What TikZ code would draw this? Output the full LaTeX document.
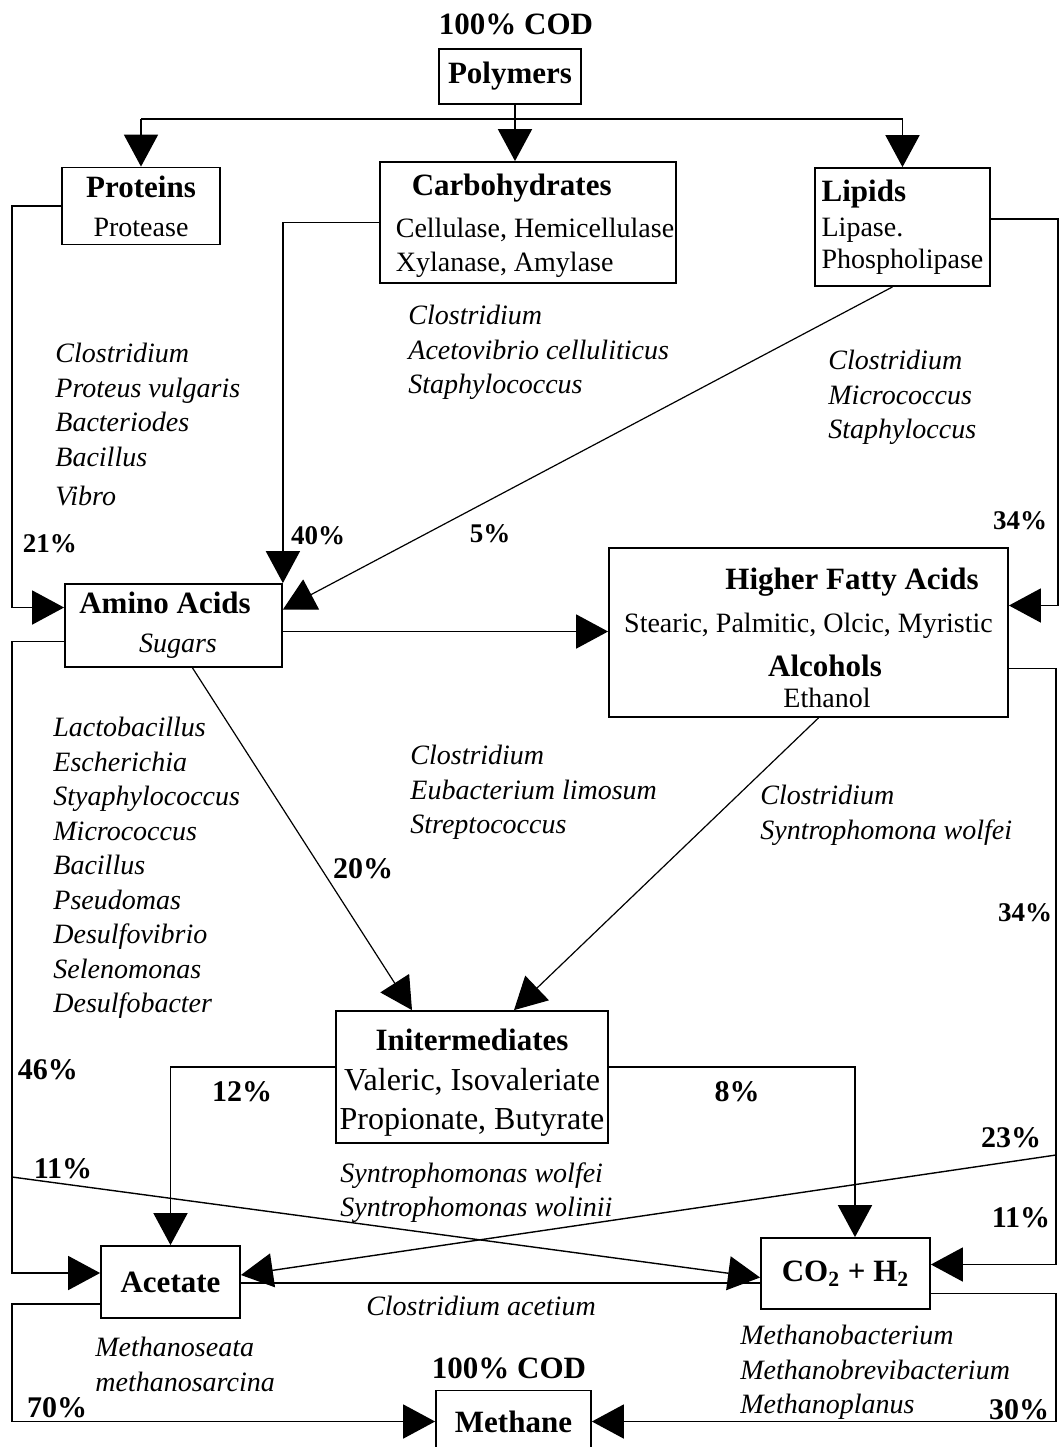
\documentclass[tikz,border=0pt]{standalone}
\usepackage{fontspec}
\setmainfont{Liberation Serif}
\usetikzlibrary{arrows.meta,positioning}

\newcommand{\titcaja}[1]{{\fontsize{15.5}{18}\selectfont\bfseries #1}}

\begin{document}
\begin{tikzpicture}[x=0.5pt, y=-0.5pt,
    caja/.style={draw, line width=0.9pt, inner sep=0pt, align=center, font=\fontsize{14}{17}\selectfont},
    bact/.style={anchor=north west, inner sep=0pt, align=left, font=\fontsize{14}{17.25}\selectfont\itshape},
    pct/.style={inner sep=0pt, font=\fontsize{13.5}{16}\selectfont\bfseries},
    pctg/.style={inner sep=0pt, font=\fontsize{15}{17}\selectfont\bfseries},
    tcod/.style={inner sep=0pt, font=\fontsize{15.5}{18}\selectfont\bfseries},
    flecha/.style={line width=0.9pt, -{Triangle[length=16pt,width=17pt]}},
    diag/.style={line width=0.6pt, -{Triangle[length=16pt,width=17pt]}},
    linea/.style={line width=0.9pt}]
    \useasboundingbox (0,0) rectangle (1059,1447);

    % Cajas de los compuestos
    \node[tcod] (cod1) at (516,24) {100\% COD};
    \node[caja, minimum width=71pt, minimum height=27.5pt] (poly) at (510,76.5) {\titcaja{Polymers}};
    \node[caja, minimum width=79pt, minimum height=38.5pt] (prot) at (141,206) {\titcaja{Proteins}\\[2.5pt]Protease};
    \node[caja, align=left, minimum width=148pt, minimum height=60.5pt] (carb) at (528,222.5)
        {\rule{0pt}{14pt}\hspace*{15pt}\titcaja{Carbohydrates}\\[4pt]\hspace*{7pt}Cellulase, Hemicellulase\\\hspace*{7pt}Xylanase, Amylase};
    \node[caja, align=left, minimum width=87.5pt, minimum height=59pt] (lip) at (902.5,227)
        {\titcaja{Lipids}\\[0.5pt]Lipase.\\[-1pt]Phospholipase};
    \node[caja, minimum width=108.5pt, minimum height=41.5pt] (amino) at (173.5,625.5)
        {\titcaja{Amino Acids}\hspace*{8.5pt}\\[2.5pt]\hspace*{4.5pt}\textit{Sugars}};
    \node[caja, minimum width=199.5pt, minimum height=84.5pt] (hfa) at (808.5,632.5)
        {\rule{0pt}{16pt}\hspace*{43.5pt}\titcaja{Higher Fatty Acids}\\[4.5pt]Stearic, Palmitic, Olcic, Myristic\\[5pt]\hspace*{16.5pt}\titcaja{Alcohols}\\[-1.5pt]\hspace*{18.5pt}Ethanol};
    \node[caja, font=\fontsize{16}{19}\selectfont, minimum width=136pt, minimum height=66pt] (inter) at (472,1077)
        {\rule{0pt}{16pt}\titcaja{Initermediates}\\[1pt]Valeric, Isovaleriate\\[0.5pt]Propionate, Butyrate};
    \node[caja, minimum width=69.5pt, minimum height=36pt] (acet) at (170.5,1282) {\titcaja{Acetate}};
    \node[caja, minimum width=84.5pt, minimum height=35.5pt] (co2) at (845.5,1273.5) {\titcaja{CO\textsubscript{2} + H\textsubscript{2}}};
    \node[tcod] (cod2) at (509,1368) {100\% COD};
    \node[caja, minimum width=77.5pt, minimum height=31pt] (meth) at (513.5,1421.5) {\titcaja{Methane}};

    % Bacterias
    \node[bact] (bprot) at (55,343) {Clostridium\\Proteus vulgaris\\Bacteriodes\\Bacillus\\[2.5pt]Vibro};
    \node[bact] (bcarb) at (408,305) {Clostridium\\Acetovibrio celluliticus\\Staphylococcus};
    \node[bact] (blip) at (828,350) {Clostridium\\Micrococcus\\Staphyloccus};
    \node[bact] (bamino) at (53,717) {Lactobacillus\\Escherichia\\Styaphylococcus\\Micrococcus\\Bacillus\\Pseudomas\\Desulfovibrio\\Selenomonas\\Desulfobacter};
    \node[bact] (bmed) at (410,745) {Clostridium\\Eubacterium limosum\\Streptococcus};
    \node[bact] (bhfa) at (760,785) {Clostridium\\Syntrophomona wolfei};
    \node[bact] (binter) at (340,1162) {Syntrophomonas wolfei\\Syntrophomonas wolinii};
    \node[bact, anchor=center] (bclos) at (481,1306) {Clostridium acetium};
    \node[bact] (bacet) at (95,1337) {Methanoseata\\methanosarcina};
    \node[bact] (bco2) at (740,1325) {Methanobacterium\\Methanobrevibacterium\\Methanoplanus};

    % Porcentajes
    \node[pct] (p21) at (50,544) {21\%};
    \node[pct] (p40) at (318,536) {40\%};
    \node[pct] (p5) at (490,534) {5\%};
    \node[pct] (p34a) at (1020,521) {34\%};
    \node[pctg] (p20) at (363,869) {20\%};
    \node[pct] (p34b) at (1025,913) {34\%};
    \node[pctg] (p46) at (48,1070) {46\%};
    \node[pctg] (p12) at (242,1092) {12\%};
    \node[pctg] (p8) at (737,1092) {8\%};
    \node[pctg] (p23) at (1011,1138) {23\%};
    \node[pctg] (p11a) at (63,1169) {11\%};
    \node[pctg] (p11b) at (1021,1218) {11\%};
    \node[pctg] (p70) at (57,1408) {70\%};
    \node[pctg] (p30) at (1019,1410) {30\%};

    % Puntos auxiliares
    \coordinate (bus) at (0,119);
    \coordinate (rI) at (12,0);
    \coordinate (rD) at (1056,0);
    \coordinate (rL) at (1058,0);
    \coordinate (polyS) at ([xshift=2.5pt]poly.south);
    \coordinate (amIn) at ([yshift=9pt]amino.west);
    \coordinate (lipS) at ([xshift=-5pt]lip.south);
    \coordinate (amR) at ([yshift=8pt]amino.east);
    \coordinate (lipR) at ([yshift=4pt]lip.east);
    \coordinate (hfaIn) at ([yshift=13.5pt]hfa.east);
    \coordinate (amOut) at ([yshift=-3pt]amino.east);
    \coordinate (amL) at ([yshift=-8pt]amino.west);
    \coordinate (acIn) at ([yshift=4.5pt]acet.west);
    \coordinate (amS) at ([xshift=9.5pt]amino.south);
    \coordinate (inA) at ([xshift=-30pt]inter.north);
    \coordinate (hfaS) at ([xshift=5pt]hfa.south);
    \coordinate (inB) at ([xshift=21pt]inter.north);
    \coordinate (hfaR) at ([yshift=-18pt]hfa.east);
    \coordinate (coIn) at ([yshift=4.5pt]co2.east);
    \coordinate (inL) at ([yshift=5pt]inter.west);
    \coordinate (inR) at ([yshift=5pt]inter.east);
    \coordinate (coTop) at ([xshift=4.75pt]co2.north);
    \coordinate (x11) at (12,1177);
    \coordinate (x23) at (1056,1155);
    \coordinate (coL) at ([yshift=-2pt]co2.west);
    \coordinate (acR) at ([yshift=3.5pt]acet.east);
    \coordinate (acR2) at ([yshift=-0.5pt]acet.east);
    \coordinate (acL) at ([yshift=-11pt]acet.west);
    \coordinate (coR) at ([yshift=-10pt]co2.east);

    % Hidrolisis
    \draw[flecha] (polyS) -- (polyS |- carb.north);
    \draw[linea] (bus -| prot.north) -- (bus -| lip.north);
    \draw[flecha] (bus -| prot.north) -- (prot.north);
    \draw[flecha] (bus -| lip.north) -- (lip.north);
    \draw[flecha] (prot.west) -- (prot.west -| rI) |- (amIn);
    \draw[flecha] (carb.west) -| (amino.north east);
    \draw[diag] (lipS) -- (amR);
    \draw[flecha] (lipR) -- (lipR -| rL) |- (hfaIn);

    % Acidogenesis
    \draw[flecha] (amOut) -- (amOut -| hfa.west);
    \draw[flecha] (amL) -- (amL -| rI) |- (acIn);
    \draw[diag] (amS) -- (inA);
    \draw[diag] (hfaS) -- (inB);
    \draw[flecha] (hfaR) -- (hfaR -| rD) |- (coIn);

    % Acetogenesis
    \draw[flecha] (inL) -| (acet.north);
    \draw[flecha] (inR) -| (coTop);
    \draw[diag, line width=0.7pt] (x11) -- (coL);
    \draw[diag, line width=0.7pt] (x23) -- (acR);
    \draw[linea] (acR2) -- (acR2 -| co2.west);

    % Metanogenesis
    \draw[flecha] (acL) -- (acL -| rI) |- (meth.west);
    \draw[flecha] (coR) -- (coR -| rD) |- (meth.east);
\end{tikzpicture}
\end{document}
